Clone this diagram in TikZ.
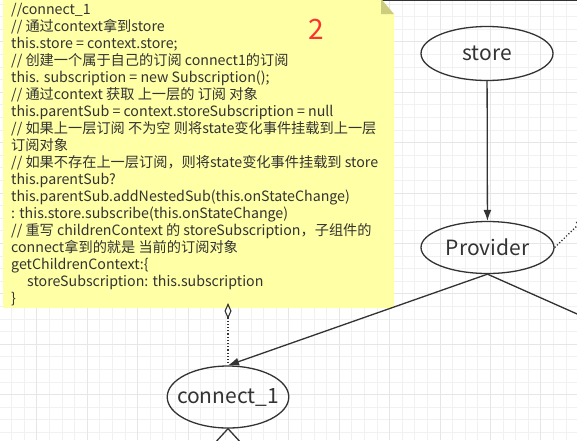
\documentclass[tikz,border=0pt]{standalone}
\usepackage{fontspec}
\setmainfont{Noto Sans CJK SC}
\usepackage{tikz}
\usetikzlibrary{calc}
\usetikzlibrary{positioning}
\usetikzlibrary{shapes.geometric}
\usetikzlibrary{arrows.meta}
\definecolor{notefill}{HTML}{FFFFA6}
\definecolor{notefold}{HTML}{CDCD80}
\definecolor{edgegray}{HTML}{333333}
\definecolor{gridthin}{HTML}{F1F1F1}
\definecolor{gridbold}{HTML}{E6E6E6}
\definecolor{markred}{HTML}{FF3030}
\tikzstyle{statenode} = [draw=edgegray, ellipse, line width=1.3pt, inner xsep=-8pt, inner ysep=0pt, text=edgegray, font=\fontsize{21}{25}\selectfont]
\tikzstyle{flow} = [draw=edgegray, line width=1.3pt, -{Latex[length=11pt,width=8pt]}]
\tikzstyle{plainflow} = [draw=edgegray, line width=1.3pt]
\tikzstyle{linkflow} = [draw=edgegray, line width=1.3pt, dash pattern=on 1.2pt off 2pt]
\tikzstyle{notetext} = [anchor=north west, inner sep=0, align=left, text=edgegray, font=\fontsize{14.2}{17}\selectfont]

\begin{document}
\begin{tikzpicture}[x=1pt, y=-1pt]
    \useasboundingbox (0,0) rectangle (577,440);
    \clip (0,0) rectangle (577,440);
    \fill[white] (0,0) rectangle (577,440);
    % grid
    \foreach \i in {0,...,45}
        \draw[gridthin, line width=0.9pt] (11.6+12.6*\i,0) -- ++(0,440);
    \foreach \i in {0,...,34}
        \draw[gridthin, line width=0.9pt] (0,4.1+12.6*\i) -- ++(577,0);
    \foreach \i in {0,...,11}
        \draw[gridbold, line width=0.9pt] (36.8+50.4*\i,0) -- ++(0,440);
    \foreach \i in {0,...,8}
        \draw[gridbold, line width=0.9pt] (0,41.9+50.4*\i) -- ++(577,0);
    \draw[edgegray, line width=1.6pt] (231,0.6) -- (577,0.6);

    % note
    \fill[notefill] (3,-1) -- (381,-1) -- (394,14) -- (394,308) -- (3,308) -- cycle;
    \fill[notefold] (381,-1) -- (381,14) -- (394,14) -- cycle;
    \node[notetext] (note) at (11,2.6) {//connect\_1\\
// 通过context拿到store\\
this.store = context.store;\\
// 创建一个属于自己的订阅 connect1的订阅\\
this. subscription = new Subscription();\\
// 通过context 获取 上一层的 订阅 对象\\
this.parentSub = context.storeSubscription = null\\
// 如果上一层订阅 不为空 则将state变化事件挂载到上一层\\
订阅对象\\
// 如果不存在上一层订阅，则将state变化事件挂载到 store\\
this.parentSub?\\
this.parentSub.addNestedSub(this.onStateChange)\\
: this.store.subscribe(this.onStateChange)\\
// 重写 childrenContext 的 storeSubscription，子组件的\\
connect拿到的就是 当前的订阅对象\\
getChildrenContext:\{\\
\hspace*{16pt}storeSubscription: this.subscription\\
\}};
    \node[text=markred, font=\fontsize{28}{30}\selectfont, inner sep=0] (mark) at (316,29) {2};

    % nodes
    \node[statenode, minimum width=132pt, minimum height=54pt] (store) at (487,53.5) {store};
    \node[statenode, minimum width=133pt, minimum height=52pt] (provider) at ($(store)+(0.5,194)$) {Provider};
    \node[statenode, minimum width=121pt, minimum height=62pt] (connect1) at (228,397) {connect\_1};

    \coordinate (notebot) at (228,303);
    \coordinate (rightkid) at ($(provider.south)+(180,80)$);
    \coordinate (leftleaf) at ($(connect1.south)+(-22,24)$);
    \coordinate (rightleaf) at ($(connect1.south)+(22,24)$);
    \coordinate (upright) at ($(provider.east)+(30,-29)$);

    \draw[flow] (store) -- (provider);
    \draw[flow] (provider.south) -- (connect1.north);
    \draw[plainflow] (provider.south) -- (rightkid);
    \draw[plainflow] (connect1.south) -- (leftleaf);
    \draw[plainflow] (connect1.south) -- (rightleaf);
    \draw[linkflow, {Diamond[open, length=16pt, width=7pt, line width=1.1pt, sep=0pt]}-] (notebot) -- (connect1.north);
    \draw[linkflow, -{Triangle[open, length=9pt, width=7pt, line width=1.1pt]}] (provider.east) -- (upright);
\end{tikzpicture}
\end{document}
